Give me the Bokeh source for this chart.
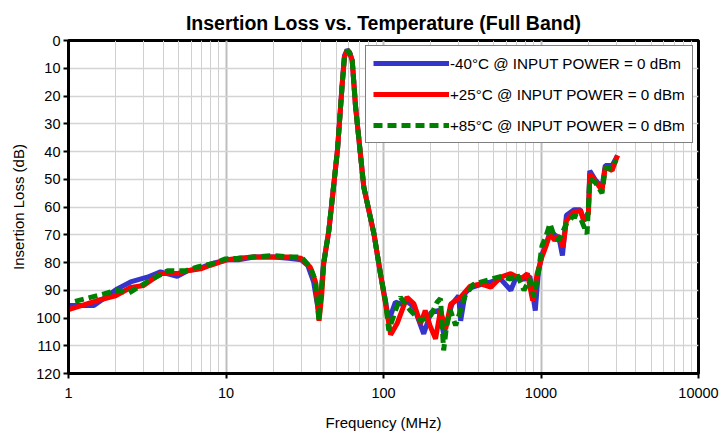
from bokeh.plotting import figure
from bokeh.models import Range1d, Legend, LegendItem, FixedTicker, CustomJSTickFormatter
from bokeh.embed import file_html
from bokeh.resources import INLINE

# ---------------- data ----------------
freq_m40 = [1.0, 1.45, 2.04, 2.48, 3.16, 3.84, 4.9, 5.7, 6.9, 8.0, 10.2, 12, 15, 20, 25, 30,
            33, 36, 38.5, 40, 41.7, 45, 51, 54.7, 56.5, 58.8, 61, 63.3, 66.5, 75, 87, 95.6,
            103, 108, 119, 130, 141, 156, 180, 200, 225, 241, 272, 300, 309, 330, 360, 414,
            480, 555, 643, 700, 780, 850, 920, 960, 1014, 1070, 1140, 1220, 1300, 1368, 1450,
            1620, 1780, 1870, 2000, 2040, 2200, 2440, 2560, 2830, 3060]
loss_m40 = [95.5, 95.5, 89.5, 87, 85.3, 83.4, 85, 83, 82, 80.5, 79, 79, 78, 78, 78.5, 79,
            81, 87, 97, 92, 80, 68.5, 39.6, 15.6, 5.5, 3.3, 4.3, 7.2, 24, 52.9, 69.7, 84,
            94, 101, 94.3, 95, 94, 96, 105.7, 98, 97.3, 105.7, 95, 92, 101, 91, 89, 88,
            87, 86, 90, 85, 86, 85, 97.3, 84, 77, 74, 69, 70, 71, 77.5, 63,
            61, 61, 65, 62, 47, 50, 53, 45, 45, 41.5]

freq_p25 = [1.0, 1.52, 1.99, 2.48, 3.0, 3.84, 4.9, 5.67, 6.9, 7.97, 10.2, 12, 15, 20, 25, 30,
            34.3, 37, 39, 40.5, 41.7, 45, 51, 54.7, 56.5, 58.8, 61, 63.3, 66.5, 75, 87, 95.6,
            103, 111, 122, 141, 156, 172, 184, 198, 214, 230, 248, 267, 309, 355, 414, 480,
            555, 643, 745, 820, 885, 945, 1014, 1070, 1140, 1220, 1300, 1380, 1450, 1620,
            1780, 1870, 2000, 2040, 2200, 2440, 2560, 2830, 3060]
loss_p25 = [97, 93.7, 92, 89, 88.3, 84, 84, 83, 82.3, 81, 79, 78.5, 78, 78, 78, 78.5,
            81.7, 87, 101, 92, 80.5, 68.5, 39.6, 15.6, 6, 3.5, 4.5, 7.2, 24, 52.9, 69.7, 84,
            94.9, 106, 102, 92.5, 94.9, 102, 97.3, 103, 107.5, 97.3, 104, 95, 92.5, 88.5, 87.7, 88.9,
            85.3, 84, 85.9, 84, 93.7, 84, 78, 74.5, 69.7, 72, 70.5, 74.5, 64.9, 61.9,
            61.3, 64.9, 62.4, 48, 50.5, 54, 45.7, 46.8, 41.4]

freq_p85 = [1.1, 1.68, 2.0, 2.41, 3.16, 4.24, 5.53, 6.7, 8.17, 9.9, 12, 15, 20, 25, 30,
            34.3, 37, 38.9, 41.7, 44.9, 51, 54.7, 56.5, 58.8, 61, 63.3, 66.5, 75, 87, 95.6,
            103, 108, 118, 128, 148, 172, 200, 219, 230, 241, 250, 265, 287, 330, 370, 420,
            480, 560, 640, 700, 780, 850, 902, 960, 1014, 1070, 1140, 1220, 1300, 1450, 1620,
            1780, 1960, 2040, 2200, 2440, 2560, 2830, 3000]
loss_p85 = [94, 91.3, 90, 91, 87, 83, 83, 81.5, 80.5, 78.7, 78.5, 78, 77.5, 78, 78,
            81.7, 86.5, 101, 80.5, 68.5, 39.6, 15.6, 6, 3.5, 4.5, 7.2, 24, 52.9, 69.7, 84,
            94, 104.5, 98, 92.5, 97.3, 101, 99, 94.3, 93, 111.7, 104, 97, 102.7, 92, 88, 87,
            86, 85, 86, 84, 90, 86, 92.5, 84, 74, 71, 66, 71, 72, 66, 63,
            64, 69.7, 50, 51, 55, 46, 46, 43]

labels = ["-40\u00b0C @ INPUT POWER = 0 dBm",
          "+25\u00b0C @ INPUT POWER = 0 dBm",
          "+85\u00b0C @ INPUT POWER = 0 dBm"]
x_ticks = [1, 10, 100, 1000, 10000]
y_ticks = [0, 10, 20, 30, 40, 50, 60, 70, 80, 90, 100, 110, 120]

FONT = "Liberation Sans"

p = figure(width=721, height=435, x_axis_type="log",
           x_range=Range1d(1, 10000), y_range=Range1d(120, 0),
           output_backend="svg", toolbar_location=None,
           min_border_left=68, min_border_right=23,
           min_border_top=40, min_border_bottom=62)

p.title.text = "Insertion Loss vs. Temperature (Full Band)"
p.title.text_font = FONT
p.title.text_font_size = "19.5px"
p.title.text_font_style = "bold"
p.title.align = "center"
p.title.vertical_align = "top"
p.title.text_color = "black"

# frame
p.outline_line_color = "black"
p.outline_line_width = 3
p.background_fill_color = "white"
p.border_fill_color = "white"

# axes
p.xaxis.ticker = FixedTicker(ticks=x_ticks,
                             minor_ticks=[m * d for d in [1, 10, 100, 1000] for m in range(2, 10)])
p.yaxis.ticker = FixedTicker(ticks=y_ticks)
for ax in (p.xaxis[0], p.yaxis[0]):
    ax.axis_line_color = "black"
    ax.axis_line_width = 3
    ax.major_tick_line_color = "black"
    ax.major_tick_line_width = 2
    ax.major_tick_out = 5
    ax.major_tick_in = 0
    ax.minor_tick_line_color = None
    ax.major_label_text_font = FONT
    ax.major_label_text_font_size = "14.5px"
    ax.major_label_text_color = "black"
    ax.axis_label_text_font = FONT
    ax.axis_label_text_font_size = "15px"
    ax.axis_label_text_font_style = "normal"
    ax.axis_label_text_color = "black"
p.xaxis.major_label_standoff = 9
p.yaxis.major_label_standoff = 3
p.xaxis.axis_label = "Frequency (MHz)"
p.yaxis.axis_label = "Insertion Loss (dB)"
p.xaxis.axis_label_standoff = 13
p.yaxis.axis_label_standoff = 6
p.xaxis.formatter = CustomJSTickFormatter(code="return tick.toFixed(0);")

# grid
p.xgrid.grid_line_color = "#BEBEBE"
p.xgrid.grid_line_width = 2
p.xgrid.minor_grid_line_color = "#D0D0D0"
p.xgrid.minor_grid_line_width = 1
p.ygrid.grid_line_color = "#D4D4D4"
p.ygrid.grid_line_width = 1.5

# series
r1 = p.line(freq_m40, loss_m40, line_color="#3535CC", line_width=5)
r2 = p.line(freq_p25, loss_p25, line_color="#FF0000", line_width=5)
r3 = p.line(freq_p85, loss_p85, line_color="#008000", line_width=5, line_dash="9 5")

legend = Legend(items=[LegendItem(label=labels[0], renderers=[r1]),
                       LegendItem(label=labels[1], renderers=[r2]),
                       LegendItem(label=labels[2], renderers=[r3])],
                location=(297, 230))
legend.label_text_font = FONT
legend.label_text_font_size = "15.2px"
legend.label_text_color = "black"
legend.glyph_width = 76
legend.glyph_height = 20
legend.label_height = 20
legend.spacing = 11
legend.padding = 7
legend.margin = 0
legend.label_standoff = 1
legend.border_line_color = "black"
legend.border_line_width = 1
legend.background_fill_alpha = 1
p.add_layout(legend, "center")

open("out.html", "w").write(file_html(p, INLINE))
